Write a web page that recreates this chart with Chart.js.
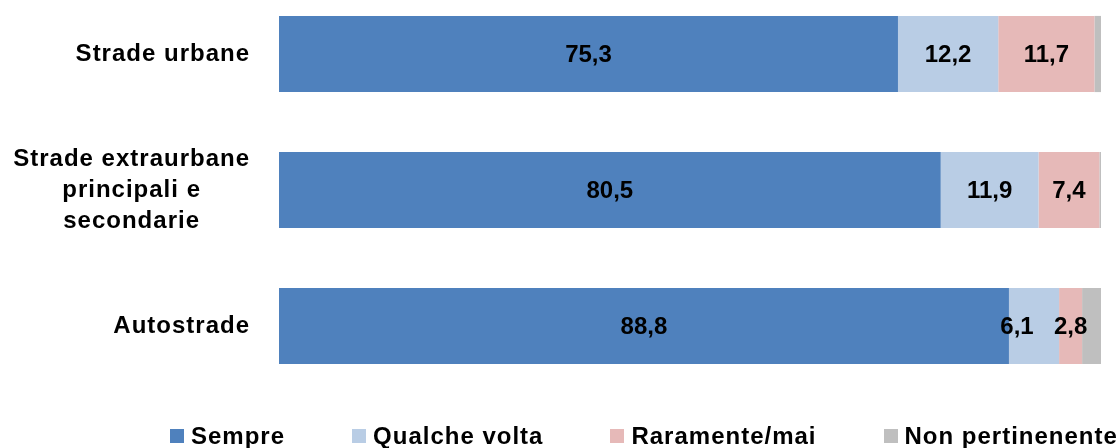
<!DOCTYPE html>
<html>
<head>
<meta charset="utf-8">
<script src="https://cdn.jsdelivr.net/npm/chart.js@4"></script>
<style>
    body { margin: 0; background: #fff; }
    #wrap { position: relative; width: 1117px; height: 448px; overflow: hidden; }
    #legend {
        position: absolute; left: 170px; top: 423px;
        display: flex; align-items: center;
        font: bold 24px "Liberation Sans", Arial, sans-serif;
        letter-spacing: 1px; line-height: 26px; color: #000; white-space: nowrap;
    }
    #legend .item { display: flex; align-items: center; margin-right: 67px; }
    #legend .box { width: 14px; height: 14px; margin-right: 7px; }
</style>
</head>
<body>
<div id="wrap">
    <canvas id="roadChart"></canvas>
    <div id="legend"></div>
</div>
<script>
// Data
var categories = ['Strade urbane', ['Strade extraurbane', 'principali e', 'secondarie'], 'Autostrade'];
var sempre = [75.3, 80.5, 88.8];
var qualcheVolta = [12.2, 11.9, 6.1];
var raramente = [11.7, 7.4, 2.8];
var nonPertinente = [0.8, 0.2, 2.3];
var seriesNames = ['Sempre', 'Qualche volta', 'Raramente/mai', 'Non pertinenente'];
var seriesColors = ['#4F81BD', '#B9CDE5', '#E6B9B8', '#BFBFBF'];

var FONT = '"Liberation Sans", Arial, sans-serif';

function fmt(v) {
    return v.toFixed(1).replace('.', ',');
}

// category labels: block right aligned next to the bars, lines centred inside the block
var catLabels = {
    id: 'catLabels',
    afterDraw: function (chart) {
        var ctx = chart.ctx;
        var scale = chart.scales.y;
        var right = chart.chartArea.left - 29;
        var lineH = 31;
        ctx.save();
        ctx.letterSpacing = '1px';
        ctx.font = 'bold 24px ' + FONT;
        ctx.fillStyle = '#000';
        ctx.textAlign = 'center';
        ctx.textBaseline = 'middle';
        chart.data.labels.forEach(function (lab, i) {
            var lines = Array.isArray(lab) ? lab : [lab];
            var w = Math.max.apply(null, lines.map(function (l) { return ctx.measureText(l).width; }));
            var cx = right - w / 2;
            var y0 = scale.getPixelForTick(i) - (lines.length - 1) * lineH / 2;
            lines.forEach(function (l, k) {
                ctx.fillText(l, cx, y0 + k * lineH);
            });
        });
        ctx.restore();
    }
};

// value labels in the middle of each segment (not for the grey one)
var barLabels = {
    id: 'barLabels',
    afterDatasetsDraw: function (chart) {
        var ctx = chart.ctx;
        ctx.save();
        ctx.font = 'bold 24px ' + FONT;
        ctx.fillStyle = '#000';
        ctx.textAlign = 'center';
        ctx.textBaseline = 'middle';
        chart.data.datasets.forEach(function (ds, i) {
            if (i === 3) return;
            chart.getDatasetMeta(i).data.forEach(function (bar, j) {
                var x = (bar.x + bar.base) / 2;
                // narrow segment: move label a bit to the left like the original
                if (i === 1 && bar.x - bar.base < 60) x -= 17;
                ctx.fillText(fmt(ds.data[j]), x, bar.y + 1);
            });
        });
        ctx.restore();
    }
};

document.addEventListener('DOMContentLoaded', function () {
    var ctx = document.getElementById('roadChart').getContext('2d');
    var allData = [sempre, qualcheVolta, raramente, nonPertinente];
    var chart = new Chart(ctx, {
        type: 'bar',
        data: {
            labels: categories,
            datasets: allData.map(function (d, i) {
                return {
                    label: seriesNames[i],
                    data: d,
                    backgroundColor: seriesColors[i],
                    borderWidth: 0,
                    categoryPercentage: 1,
                    barPercentage: 0.56,
                    clip: false
                };
            })
        },
        options: {
            indexAxis: 'y',
            responsive: true,
            maintainAspectRatio: false,
            animation: false,
            layout: { padding: { top: 54, right: 16, bottom: 122, left: 0 } },
            scales: {
                x: { stacked: true, min: 0, max: 100, display: false },
                y: {
                    stacked: true,
                    offset: false,
                    grid: { display: false },
                    border: { display: false },
                    ticks: { display: false },
                    afterFit: function (scale) { scale.width = 279; }
                }
            },
            plugins: {
                legend: { display: false },
                tooltip: { enabled: false }
            }
        },
        plugins: [barLabels, catLabels]
    });

    // legend below the chart, built from the datasets
    var legend = document.getElementById('legend');
    chart.data.datasets.forEach(function (ds) {
        var item = document.createElement('div');
        item.className = 'item';
        var box = document.createElement('span');
        box.className = 'box';
        box.style.background = ds.backgroundColor;
        var txt = document.createElement('span');
        txt.textContent = ds.label;
        item.appendChild(box);
        item.appendChild(txt);
        legend.appendChild(item);
    });
});
</script>
</body>
</html>
